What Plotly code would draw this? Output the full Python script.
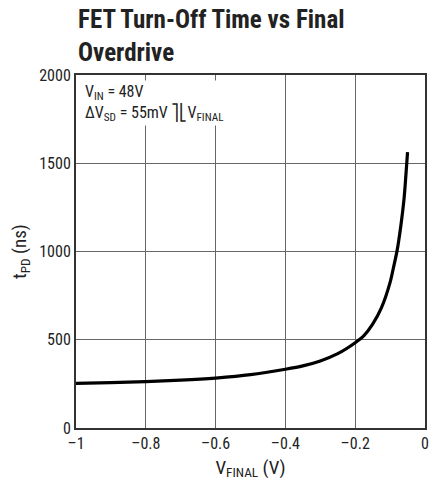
import plotly.graph_objects as go

v_final = [-1.0, -0.9, -0.8, -0.7, -0.6, -0.5, -0.4, -0.35, -0.3, -0.25, -0.2, -0.175, -0.15, -0.125, -0.1, -0.09, -0.08, -0.07, -0.06, -0.055, -0.05]
t_pd = [253, 257, 263, 271, 283, 302, 333, 352, 380, 421, 483, 523, 588, 680, 825, 912, 1005, 1135, 1300, 1425, 1563]

x_ticks = [-1, -0.8, -0.6, -0.4, -0.2, 0]
x_tick_text = ["–1", "–0.8", "–0.6", "–0.4", "–0.2", "0"]
y_ticks = [0, 500, 1000, 1500, 2000]

FONT = "Liberation Sans Narrow, Roboto Condensed, Arial Narrow, Liberation Sans, sans-serif"

fig = go.Figure()
fig.add_trace(go.Scatter(x=v_final, y=t_pd, mode="lines",
                         line=dict(color="black", width=3.2, shape="spline", smoothing=0.8),
                         showlegend=False))

fig.update_layout(
    width=438, height=500,
    margin=dict(l=76, r=9, t=75, b=72),
    paper_bgcolor="white", plot_bgcolor="white",
    font=dict(family=FONT, size=16, color="#222"),
    xaxis=dict(range=[-1, 0], tickvals=x_ticks, ticktext=x_tick_text,
               ticklabeloverflow="allow",
               showgrid=True, gridcolor="#666", gridwidth=1,
               showline=True, linecolor="#333", linewidth=2, mirror=True,
               zeroline=False, ticks="", ticklen=0,
               title=dict(text="V<sub>FINAL</sub> (V)", standoff=8)),
    yaxis=dict(range=[0, 2000], tickvals=y_ticks,
               showgrid=True, gridcolor="#666", gridwidth=1,
               showline=True, linecolor="#333", linewidth=2, mirror=True,
               zeroline=False, ticks="", ticklen=0,
               title=dict(text="t<sub>PD</sub> (ns)", standoff=8)),
    annotations=[
        dict(text="<b>FET Turn-Off Time vs Final<br>Overdrive</b>",
             xref="paper", yref="paper", x=0, y=1.018, xanchor="left", yanchor="bottom",
             showarrow=False, align="left",
             font=dict(family=FONT, size=25, color="#222")),
        dict(text="V<sub>IN</sub> = 48V<br>ΔV<sub>SD</sub> = 55mV ⎤⎣V<sub>FINAL</sub>",
             xref="paper", yref="paper", x=0.02, y=0.985, xanchor="left", yanchor="top",
             showarrow=False, align="left", bgcolor="white",
             font=dict(family=FONT, size=16, color="#222"))],
)

fig.write_html("out.html", config={"displayModeBar": False},
               post_script="document.body.style.margin='0';")
